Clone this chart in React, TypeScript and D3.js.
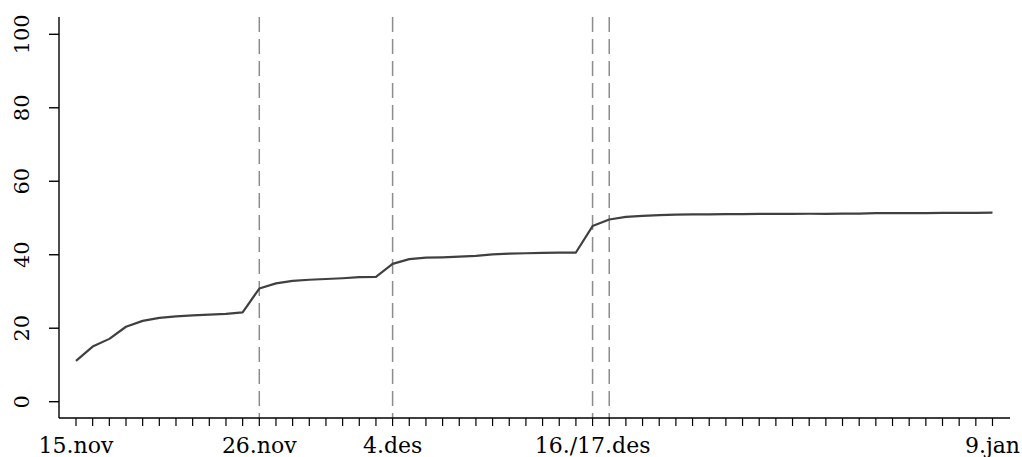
import * as d3 from "d3";

// daily share values, 15.nov (day 0) through 9.jan (day 55)
const values = [
  11.1, 15.0, 17.1, 20.4, 22.0, 22.8, 23.2, 23.5, 23.7, 23.9, 24.3, 30.8,
  32.2, 32.9, 33.2, 33.4, 33.6, 33.9, 34.0, 37.5, 38.8, 39.2, 39.3, 39.5,
  39.7, 40.1, 40.3, 40.4, 40.5, 40.6, 40.6, 47.8, 49.6, 50.3, 50.6, 50.8,
  50.9, 51.0, 51.0, 51.05, 51.05, 51.1, 51.1, 51.1, 51.15, 51.15, 51.2,
  51.2, 51.3, 51.3, 51.35, 51.35, 51.4, 51.4, 51.4, 51.45,
];

const xLabels = [
  { day: 0, text: "15.nov" },
  { day: 11, text: "26.nov" },
  { day: 19, text: "4.des" },
  { day: 31, text: "16./17.des" },
  { day: 55, text: "9.jan" },
];

const eventDays = [11, 19, 31, 32];
const yTicks = [0, 20, 40, 60, 80, 100];

const W = 1022;
const H = 457;
const axisX = 59;
const axisY = 418;
const font = "'DejaVu Serif', serif";

export default function App() {
  const x = d3.scaleLinear().domain([0, 55]).range([76, 992.5]);
  const y = d3.scaleLinear().domain([0, 100]).range([401.7, 34.3]);

  const line = d3
    .line<number>()
    .x((_, i) => x(i))
    .y((d) => y(d));

  const days = d3.range(0, values.length);

  return (
    <svg
      width={W}
      height={H}
      style={{ position: "fixed", left: 0, top: 0, background: "#fff" }}
    >
      {/* event markers */}
      {eventDays.map((d) => (
        <line
          key={d}
          x1={x(d)}
          x2={x(d)}
          y1={17}
          y2={axisY}
          stroke="#8c8c8c"
          strokeWidth={1.5}
          strokeDasharray="15,7"
        />
      ))}

      {/* series */}
      <path
        d={line(values) || ""}
        fill="none"
        stroke="#404040"
        strokeWidth={2.2}
        strokeLinejoin="round"
      />

      {/* y axis */}
      <line x1={axisX} x2={axisX} y1={17} y2={axisY} stroke="#000" strokeWidth={1.4} />
      {yTicks.map((t) => (
        <g key={t}>
          <line x1={axisX - 10} x2={axisX} y1={y(t)} y2={y(t)} stroke="#000" strokeWidth={1.4} />
          <text
            transform={`translate(29,${y(t)}) rotate(-90)`}
            textAnchor="middle"
            fontFamily={font}
            fontSize={21}
            fill="#000"
          >
            {t}
          </text>
        </g>
      ))}

      {/* x axis */}
      <line x1={axisX} x2={1010} y1={axisY} y2={axisY} stroke="#000" strokeWidth={1.4} />
      {days.map((d) => (
        <line
          key={d}
          x1={x(d)}
          x2={x(d)}
          y1={axisY}
          y2={axisY + 8}
          stroke="#000"
          strokeWidth={1.2}
        />
      ))}
      {xLabels.map((l) => (
        <text
          key={l.text}
          x={x(l.day)}
          y={453}
          textAnchor="middle"
          fontFamily={font}
          fontSize={22}
          fill="#000"
        >
          {l.text}
        </text>
      ))}
    </svg>
  );
}
